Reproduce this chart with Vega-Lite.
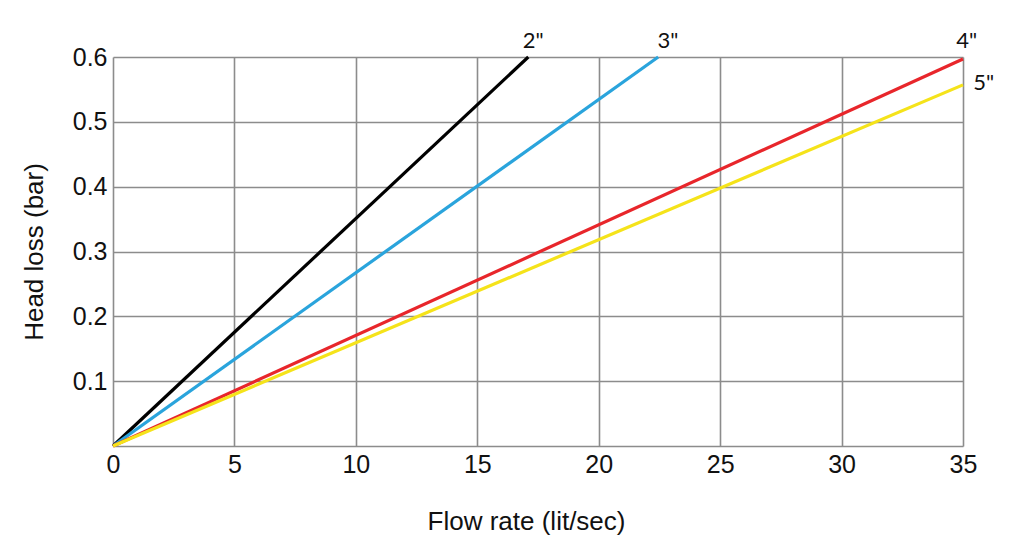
{
  "$schema": "https://vega.github.io/schema/vega-lite/v6.json",
  "width": 850,
  "height": 389,
  "autosize": {"type": "none"},
  "padding": {"left": 113, "top": 57, "right": 61, "bottom": 100},
  "background": "white",
  "config": {
    "view": {"stroke": null},
    "font": "Liberation Sans"
  },
  "datasets": {
    "lines": [
      {"pipe": "2\"", "flow": 0, "loss": 0},
      {"pipe": "2\"", "flow": 17.1, "loss": 0.6},
      {"pipe": "3\"", "flow": 0, "loss": 0},
      {"pipe": "3\"", "flow": 22.45, "loss": 0.6},
      {"pipe": "4\"", "flow": 0, "loss": 0},
      {"pipe": "4\"", "flow": 35, "loss": 0.597},
      {"pipe": "5\"", "flow": 0, "loss": 0},
      {"pipe": "5\"", "flow": 35, "loss": 0.557}
    ],
    "labels": [
      {"pipe": "2\"", "flow": 17.3, "loss": 0.624},
      {"pipe": "3\"", "flow": 22.85, "loss": 0.624},
      {"pipe": "4\"", "flow": 35.15, "loss": 0.624},
      {"pipe": "5\"", "flow": 35.85, "loss": 0.56}
    ]
  },
  "layer": [
    {
      "data": {"name": "lines"},
      "mark": {"type": "line", "strokeWidth": 3.2, "clip": false},
      "encoding": {
        "x": {
          "field": "flow", "type": "quantitative",
          "scale": {"domain": [0, 35], "nice": false},
          "axis": {
            "values": [0, 5, 10, 15, 20, 25, 30, 35],
            "title": "Flow rate (lit/sec)",
            "titleFont": "Liberation Sans",
            "titleFontSize": 26,
            "titleFontWeight": "normal",
            "titleColor": "#111",
            "titlePadding": 31,
            "titleX": 413,
            "labelFontSize": 25,
            "labelColor": "#111",
            "labelPadding": 6,
            "labelFlush": false,
            "ticks": false,
            "domain": false,
            "grid": true,
            "gridColor": "#8c8c8c",
            "gridWidth": 1.6,
            "gridOpacity": 1
          }
        },
        "y": {
          "field": "loss", "type": "quantitative",
          "scale": {"domain": [0, 0.6], "nice": false},
          "axis": {
            "values": [0, 0.1, 0.2, 0.3, 0.4, 0.5, 0.6],
            "format": ".1f",
            "labelExpr": "datum.value == 0 ? '' : datum.label",
            "title": "Head loss (bar)",
            "titleFont": "Liberation Sans",
            "titleFontSize": 26,
            "titleFontWeight": "normal",
            "titleColor": "#111",
            "titlePadding": 25,
            "labelFontSize": 25,
            "labelColor": "#111",
            "labelPadding": 6,
            "labelFlush": false,
            "ticks": false,
            "domain": false,
            "grid": true,
            "gridColor": "#8c8c8c",
            "gridWidth": 1.6,
            "gridOpacity": 1
          }
        },
        "color": {
          "field": "pipe", "type": "nominal",
          "scale": {"domain": ["2\"", "3\"", "4\"", "5\""], "range": ["#000000", "#2aa4dc", "#e8262b", "#f5e31a"]},
          "legend": null
        },
        "detail": {"field": "pipe"}
      }
    },
    {
      "data": {"name": "labels"},
      "mark": {"type": "text", "font": "Lato", "fontSize": 22, "color": "#111", "align": "center", "baseline": "middle", "clip": false},
      "encoding": {
        "x": {"field": "flow", "type": "quantitative"},
        "y": {"field": "loss", "type": "quantitative"},
        "text": {"field": "pipe"}
      }
    }
  ]
}
